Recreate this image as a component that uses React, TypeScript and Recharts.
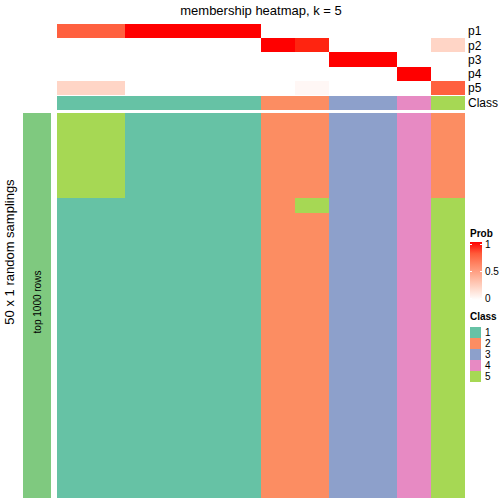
import { Bar, BarChart, Cell, XAxis, YAxis } from "recharts";

// one entry per sample (column of the heatmap)
const columns = ["s1", "s2", "s3", "s4", "s5", "s6", "s7", "s8", "s9", "s10", "s11", "s12"];

const probLabels = ["p1", "p2", "p3", "p4", "p5"];
const p1 = [0.78, 0.78, 1, 1, 1, 1, 0, 0, 0, 0, 0, 0];
const p2 = [0, 0, 0, 0, 0, 0, 1, 0.96, 0, 0, 0, 0.22];
const p3 = [0, 0, 0, 0, 0, 0, 0, 0, 1, 1, 0, 0];
const p4 = [0, 0, 0, 0, 0, 0, 0, 0, 0, 0, 1, 0];
const p5 = [0.22, 0.22, 0, 0, 0, 0, 0, 0.04, 0, 0, 0, 0.78];

const consensusClass = [1, 1, 1, 1, 1, 1, 2, 2, 3, 3, 4, 5];

// class of each sample in each of the 50 random samplings (one string per sampling)
const samplings = [
  "551111223342",
  "551111223342",
  "551111223342",
  "551111223342",
  "551111223342",
  "551111223342",
  "551111223342",
  "551111223342",
  "551111223342",
  "551111223342",
  "551111223342",
  "111111253345",
  "111111253345",
  "111111223345",
  "111111223345",
  "111111223345",
  "111111223345",
  "111111223345",
  "111111223345",
  "111111223345",
  "111111223345",
  "111111223345",
  "111111223345",
  "111111223345",
  "111111223345",
  "111111223345",
  "111111223345",
  "111111223345",
  "111111223345",
  "111111223345",
  "111111223345",
  "111111223345",
  "111111223345",
  "111111223345",
  "111111223345",
  "111111223345",
  "111111223345",
  "111111223345",
  "111111223345",
  "111111223345",
  "111111223345",
  "111111223345",
  "111111223345",
  "111111223345",
  "111111223345",
  "111111223345",
  "111111223345",
  "111111223345",
  "111111223345",
  "111111223345",
];

const classLabels = ["1", "2", "3", "4", "5"];
const probLegendTicks = [1, 0.5, 0];

const classColors: Record<string, string> = {
  "1": "#66C2A5",
  "2": "#FC8D62",
  "3": "#8DA0CB",
  "4": "#E78AC3",
  "5": "#A6D854",
};

const FONT = '"Liberation Sans", Arial, sans-serif';

// white -> red, interpolated in CIELAB like colorRamp2
function probColor(v: number) {
  const L = 100 + (53.2408 - 100) * v;
  const a = 80.0925 * v;
  const bb = 67.2032 * v;
  const fy = (L + 16) / 116;
  const fx = fy + a / 500;
  const fz = fy - bb / 200;
  const inv = (t: number) => (t ** 3 > 0.008856 ? t ** 3 : (t - 16 / 116) / 7.787);
  const X = 0.95047 * inv(fx);
  const Y = inv(fy);
  const Z = 1.08883 * inv(fz);
  const lin = [
    3.2404542 * X - 1.5371385 * Y - 0.4985314 * Z,
    -0.969266 * X + 1.8760108 * Y + 0.041556 * Z,
    0.0556434 * X - 0.2040259 * Y + 1.0572252 * Z,
  ];
  const hex = lin
    .map((c) => {
      const s = c <= 0.0031308 ? 12.92 * c : 1.055 * Math.pow(Math.max(c, 0), 1 / 2.4) - 0.055;
      const n = Math.round(Math.min(1, Math.max(0, s)) * 255);
      return n.toString(16).padStart(2, "0");
    })
    .join("");
  return "#" + hex;
}

type HeatmapProps = {
  colors: string[][]; // rows (top to bottom) x columns
  labels?: string[];
  width: number;
  height: number;
  labelWidth?: number;
};

function Heatmap({ colors, labels, width, height, labelWidth = 0 }: HeatmapProps) {
  const nRows = colors.length;
  const data = columns.map((col) => {
    const d: Record<string, string | number> = { col };
    colors.forEach((_, ri) => {
      d["r" + ri] = 1;
    });
    return d;
  });
  // stacks grow from the bottom, so the last row goes first
  const order = colors.map((_, ri) => ri).reverse();

  return (
    <BarChart
      width={width + labelWidth}
      height={height}
      data={data}
      margin={{ top: 0, right: 0, bottom: 0, left: 0 }}
      barCategoryGap={0}
      barGap={0}
    >
      <XAxis dataKey="col" hide />
      {labels ? (
        <YAxis
          type="number"
          orientation="right"
          domain={[0, nRows]}
          width={labelWidth}
          ticks={labels.map((_, i) => nRows - i - 0.5)}
          tickFormatter={(v: number) => labels[Math.round(nRows - 0.5 - v)]}
          interval={0}
          axisLine={false}
          tickLine={false}
          tickSize={0}
          tickMargin={3}
          tick={{ fontSize: 12, fill: "#000", fontFamily: FONT }}
        />
      ) : (
        <YAxis type="number" domain={[0, nRows]} hide />
      )}
      {order.map((ri) => (
        <Bar key={ri} dataKey={"r" + ri} stackId="h" isAnimationActive={false}>
          {columns.map((c, ci) => (
            <Cell key={c} fill={colors[ri][ci]} />
          ))}
        </Bar>
      ))}
    </BarChart>
  );
}

export default function App() {
  const probColors = [p1, p2, p3, p4, p5].map((row) => row.map(probColor));
  const classRow = [consensusClass.map((c) => classColors[String(c)])];
  const memberColors = samplings.map((s) => s.split("").map((c) => classColors[c]));

  return (
    <div
      style={{
        position: "absolute",
        left: 0,
        top: 0,
        width: 504,
        height: 504,
        background: "#fff",
        fontFamily: FONT,
        shapeRendering: "crispEdges",
      }}
    >
      <svg width={504} height={504} style={{ position: "absolute", left: 0, top: 0 }}>
        <defs>
          <linearGradient id="probGrad" x1="0" y1="0" x2="0" y2="1">
            {[1, 0.8, 0.6, 0.4, 0.2, 0].map((v) => (
              <stop key={v} offset={`${(1 - v) * 100}%`} stopColor={probColor(v)} />
            ))}
          </linearGradient>
        </defs>
        <text x={261} y={15} textAnchor="middle" fontSize={13} fill="#000">
          membership heatmap, k = 5
        </text>
        <text
          x={14}
          y={252}
          textAnchor="middle"
          fontSize={13}
          fill="#000"
          transform="rotate(-90 14 252)"
        >
          50 x 1 random samplings
        </text>
        <rect x={23} y={113} width={28} height={385} fill="#7FC97F" />
        <text
          x={41}
          y={302}
          textAnchor="middle"
          fontSize={10}
          fill="#000"
          transform="rotate(-90 41 302)"
        >
          top 1000 rows
        </text>

        {/* probability legend */}
        <text x={470} y={237} fontSize={10} fontWeight="bold" fill="#000">
          Prob
        </text>
        <rect x={470} y={242} width={12} height={58} fill="url(#probGrad)" />
        {probLegendTicks.map((t) => {
          const y = 244 + (1 - t) * 54;
          return (
            <g key={t}>
              <line x1={470} x2={472} y1={y} y2={y} stroke="#fff" />
              <line x1={480} x2={482} y1={y} y2={y} stroke="#fff" />
              <text x={485} y={y + 3.5} fontSize={10} fill="#000">
                {t}
              </text>
            </g>
          );
        })}

        {/* class legend */}
        <text x={470} y={320} fontSize={10} fontWeight="bold" fill="#000">
          Class
        </text>
        {classLabels.map((c, i) => (
          <g key={c}>
            <rect x={470} y={327 + i * 11} width={11} height={11} fill={classColors[c]} />
            <text x={485} y={327 + i * 11 + 9} fontSize={10} fill="#000">
              {c}
            </text>
          </g>
        ))}
      </svg>

      <div style={{ position: "absolute", left: 57, top: 24 }}>
        <Heatmap colors={probColors} labels={probLabels} width={408} height={71} labelWidth={39} />
      </div>
      <div style={{ position: "absolute", left: 57, top: 96 }}>
        <Heatmap colors={classRow} labels={["Class"]} width={408} height={14} labelWidth={39} />
      </div>
      <div style={{ position: "absolute", left: 57, top: 113 }}>
        <Heatmap colors={memberColors} width={408} height={385} />
      </div>
    </div>
  );
}
